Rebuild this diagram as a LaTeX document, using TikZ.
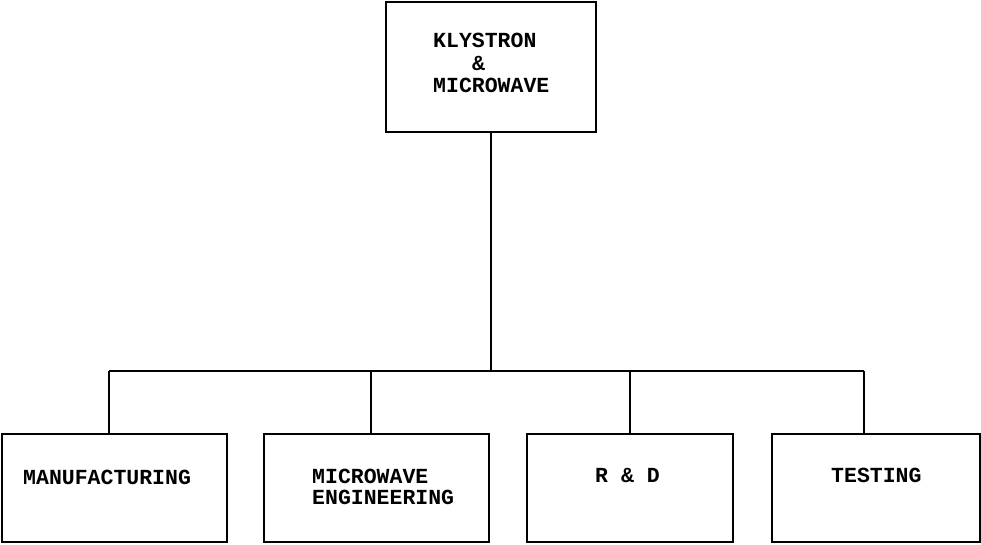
\documentclass[tikz,border=0pt]{standalone}
\usepackage{fontspec}
\setmonofont{Liberation Mono}
\usetikzlibrary{positioning}

\tikzset{
  unit/.style={draw,line width=1.6pt,inner sep=0pt},
  lbl/.style={anchor=west,inner sep=0pt,align=left,
    font=\ttfamily\bfseries\fontsize{21.5}{22}\selectfont},
  wire/.style={line width=1.6pt}
}

\begin{document}
\begin{tikzpicture}[x=1pt,y=-1pt]
  \useasboundingbox (0,0) rectangle (981,544);
  % boxes
  \node[unit,minimum width=210pt,minimum height=130pt] (head) at (491,67) {};
  \node[unit,minimum width=225pt,minimum height=108pt] (mfg) at (114.5,488) {};
  \node[unit,minimum width=225pt,minimum height=108pt] (mwe) at (376.5,488) {};
  \node[unit,minimum width=206pt,minimum height=108pt] (rnd) at (630,488) {};
  \node[unit,minimum width=208pt,minimum height=108pt] (tst) at (876,488) {};
  % texts
  \node[lbl] (headtxt1) at (433,40) {KLYSTRON};
  \node[lbl] (headtxt2) at (472,63) {\&};
  \node[lbl] (headtxt3) at (433,85) {MICROWAVE};
  \node[lbl] (mfgtxt) at (23,477) {MANUFACTURING};
  \node[lbl] (mwetxt1) at (312,476) {MICROWAVE};
  \node[lbl] (mwetxt2) at (312,497) {ENGINEERING};
  \node[lbl] (rndtxt) at (595,475) {R \& D};
  \node[lbl] (tsttxt) at (831,475) {TESTING};
  % bus
  \coordinate (j1) at (109,371);
  \coordinate (j2) at (371,371);
  \coordinate (j3) at (630,371);
  \coordinate (j4) at (864,371);
  \draw[wire] (head.south) -- (head.south |- j1);
  \draw[wire] (j1) -- (j4);
  \draw[wire] (j1) -- (j1 |- mfg.north);
  \draw[wire] (j2) -- (j2 |- mwe.north);
  \draw[wire] (j3) -- (j3 |- rnd.north);
  \draw[wire] (j4) -- (j4 |- tst.north);
\end{tikzpicture}
\end{document}
